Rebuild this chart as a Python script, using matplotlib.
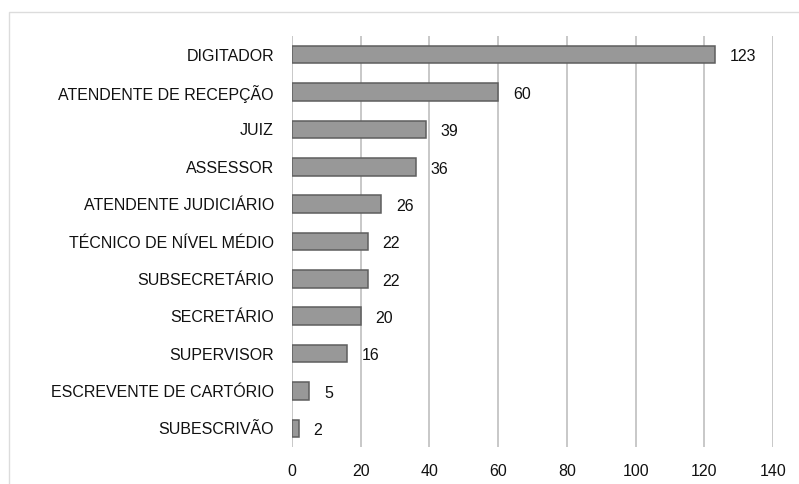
import matplotlib.pyplot as plt
from matplotlib.patches import Rectangle
from matplotlib import font_manager

categories = ["DIGITADOR", "ATENDENTE DE RECEPÇÃO", "JUIZ", "ASSESSOR",
              "ATENDENTE JUDICIÁRIO", "TÉCNICO DE NÍVEL MÉDIO", "SUBSECRETÁRIO",
              "SECRETÁRIO", "SUPERVISOR", "ESCREVENTE DE CARTÓRIO", "SUBESCRIVÃO"]
values = [123, 60, 39, 36, 26, 22, 22, 20, 16, 5, 2]
ticks = [0, 20, 40, 60, 80, 100, 120, 140]

names = {f.name for f in font_manager.fontManager.ttflist}
if "Liberation Sans Narrow" in names:
    plt.rcParams["font.family"] = ["Liberation Sans Narrow", "DejaVu Sans"]
    fs = 13.5
else:
    plt.rcParams["font.family"] = ["Liberation Sans", "DejaVu Sans"]
    fs = 11.5

fig = plt.figure(figsize=(7.99, 4.84), dpi=100)
fig.patches.append(Rectangle((9 / 799, -0.1), 1.2, 1 - 12 / 484 + 0.1,
                             transform=fig.transFigure, fill=False,
                             edgecolor="#dcdcdc", linewidth=1))
ax = fig.add_axes([292 / 799, 37 / 484, 481 / 799, 411 / 484])

y = list(range(len(categories)))
ax.barh(y, values, height=0.47, color="#989898", edgecolor="#5e5e5e",
        linewidth=1.1, zorder=3)
for yi, v in zip(y, values):
    ax.text(v + 4.3, yi + 0.06, str(v), va="center", ha="left", fontsize=fs,
            color="#111111")

ax.set_xlim(0, 140)
ax.set_ylim(len(categories) - 0.5, -0.5)
ax.set_xticks(ticks)
ax.set_yticks(y)
ax.set_yticklabels(categories, fontsize=fs, color="#111111")
ax.tick_params(axis="x", labelsize=fs, colors="#111111", length=0, pad=12)
ax.tick_params(axis="y", length=0, pad=13)
ax.grid(axis="x", color="#c8c8c8", linewidth=1.4, zorder=0)
for s in ax.spines.values():
    s.set_visible(False)

fig.savefig("out.png", dpi=100)
